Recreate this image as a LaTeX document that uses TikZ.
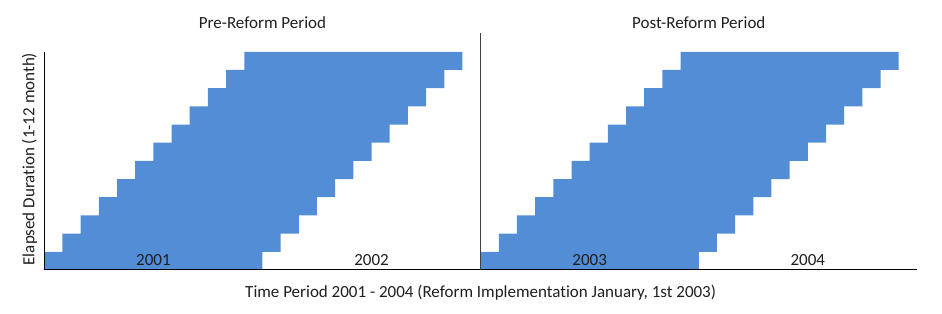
\documentclass[tikz,border=0pt]{standalone}
\usepackage{fontspec}
\setmainfont{Carlito}[Ligatures=NoCommon]
\usetikzlibrary{positioning}
\definecolor{barBlue}{HTML}{538DD5}
\definecolor{divGrey}{HTML}{404040}
\definecolor{txtGrey}{HTML}{1F1F1F}
\tikzset{
  axisline/.style = {black, line width=0.8pt},
  divline/.style  = {divGrey, line width=0.9pt},
  barfill/.style  = {fill=barBlue},
  lbl/.style      = {font=\fontsize{13.3}{15}\selectfont, txtGrey, inner sep=0pt},
}
\begin{document}
\begin{tikzpicture}[x=0.5cm, y=0.5cm]
  \useasboundingbox (-2.437,-2.42) rectangle (49.38,14.85);
  % staircase of bars: one row per elapsed month, shifted one month per row
  \foreach \p in {0,24} {
    \fill[barfill] \foreach \i in {0,...,11} { (\p+\i,\i) rectangle ++(12,1) };
  }
  % axes and reform divider
  \draw[axisline] (0,12) -- (0,0) -- (48,0);
  \draw[divline] (24,0) -- (24,13.04);
  % period titles
  \node[lbl, anchor=base] (pre)  at (12,13.26) {Pre-Reform Period};
  \node[lbl, anchor=base] (post) at (36,13.26) {Post-Reform Period};
  % years
  \foreach \yr/\xc in {2001/6, 2002/18, 2003/30, 2004/42} {
    \node[lbl, anchor=base] (y\yr) at (\xc,0.24) {\yr};
  }
  % axis titles
  \node[lbl, anchor=base] (xlab) at (24,-1.5)
    {Time Period 2001 - 2004 (Reform Implementation January, 1st 2003)};
  \node[lbl, anchor=base, rotate=90] (ylab) at (-0.55,6.1)
    {Elapsed Duration (1-12 month)};
\end{tikzpicture}
\end{document}
